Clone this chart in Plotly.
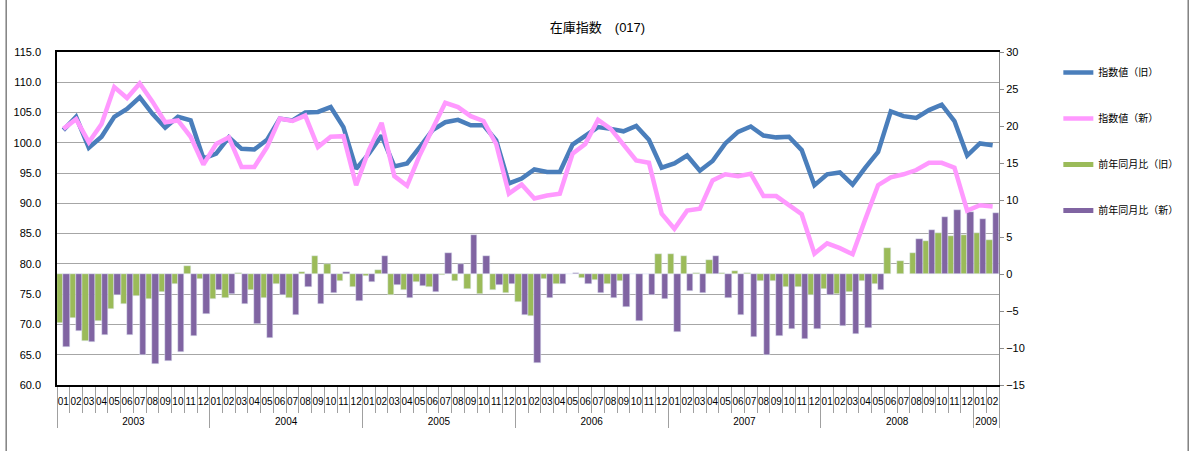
import plotly.graph_objects as go

years = ["2003"] * 12 + ["2004"] * 12 + ["2005"] * 12 + ["2006"] * 12 + ["2007"] * 12 + ["2008"] * 12 + ["2009"] * 2
months = ["%02d" % m for m in range(1, 13)] * 6 + ["01", "02"]

# 指数値 (旧)
index_old = [102.1, 104.3, 99.2, 101.0, 104.3, 105.6, 107.5, 104.8, 102.5, 104.3, 103.7, 97.4,
             98.2, 100.9, 99.0, 98.9, 100.5, 104.0, 103.7, 105.0, 105.1, 105.9, 102.6, 95.7,
             98.2, 101.2, 96.1, 96.6, 99.3, 102.1, 103.4, 103.8, 102.9, 102.9, 100.4, 93.3,
             94.1, 95.6, 95.2, 95.2, 99.7, 101.2, 102.6, 102.3, 101.9, 102.8, 100.5, 95.9,
             96.6, 97.9, 95.4, 97.0, 99.9, 101.8, 102.7, 101.2, 100.9, 101.0, 98.8, 93.0,
             94.8, 95.1, 93.1, 95.9, 98.5, 105.2, 104.4, 104.1, 105.4, 106.3, 103.6, 97.9,
             99.9, 99.6]

# 指数値 (新)
index_new = [102.3, 103.9, 100.1, 103.1, 109.2, 107.4, 109.8, 106.8, 103.4, 103.7, 101.0, 96.4,
             99.8, 100.9, 96.0, 96.0, 99.3, 104.0, 103.6, 104.5, 99.3, 101.0, 101.1, 93.0,
             98.8, 103.3, 94.5, 92.9, 98.0, 102.1, 106.6, 105.9, 104.4, 103.6, 99.8, 91.6,
             93.1, 90.8, 91.3, 91.6, 98.2, 99.8, 103.8, 102.3, 99.7, 97.1, 96.7, 88.3,
             85.8, 88.8, 89.1, 93.8, 94.8, 94.5, 94.9, 91.2, 91.2, 89.7, 88.2, 81.7,
             83.4, 82.6, 81.6, 87.4, 93.0, 94.3, 94.8, 95.5, 96.7, 96.7, 95.9, 88.8,
             89.7, 89.5]

# 前年同月比 (旧)
yoy_old = [-6.6, -5.9, -9.0, -6.4, -4.7, -4.1, -3.0, -3.4, -2.4, -1.3, 1.1, -0.7,
           -3.4, -3.2, 0.1, -2.2, -3.2, -1.4, -3.2, 0.3, 2.5, 1.4, -0.9, -1.7,
           -0.3, 0.5, -2.9, -2.2, -1.1, -1.8, -0.1, -0.9, -2.0, -2.7, -2.1, -2.5,
           -3.8, -5.7, -0.7, -1.4, 0.0, -0.6, -0.8, -1.4, -0.9, 0.0, 0.0, 2.7,
           2.7, 2.5, 0.2, 1.9, 0.2, 0.4, 0.1, -0.9, -0.9, -1.8, -1.8, -2.9,
           -2.0, -2.7, -2.4, -0.9, -1.4, 3.5, 1.8, 2.8, 4.5, 5.5, 5.2, 5.3,
           5.5, 4.6]

# 前年同月比 (新)
yoy_new = [-9.9, -7.7, -9.2, -8.2, -2.8, -8.2, -11.0, -12.2, -11.8, -10.6, -8.4, -5.4,
           -2.1, -2.7, -4.1, -6.8, -8.6, -2.9, -5.6, -1.8, -4.0, -2.5, 0.3, -3.6,
           -1.1, 2.5, -1.5, -3.2, -1.6, -2.4, 2.9, 1.4, 5.3, 2.5, -1.5, -1.4,
           -5.6, -12.0, -3.2, -1.3, 0.2, -1.4, -2.5, -3.3, -4.4, -6.3, -2.9, -3.4,
           -7.8, -2.3, -2.5, 2.5, -3.3, -5.5, -8.5, -10.9, -8.4, -7.4, -8.8, -7.4,
           -2.9, -7.0, -8.1, -7.3, -2.2, None, None, 4.7, 5.9, 7.7, 8.7, 8.4,
           7.5, 8.3]

BLUE = "#4A7EBB"
PINK = "#FF99FF"
GREEN = "#9BBB59"
PURPLE = "#8064A2"
FONT = "Liberation Sans, Noto Sans CJK JP, Arial"

# 年ラベルは月ラベルの一段下に表示
x = [["<br>" + y for y in years], months]
fig = go.Figure()

# 棒グラフ (右軸 = y)
fig.add_trace(go.Bar(x=x, y=yoy_old, marker_color=GREEN, name="前年同月比（旧）",
                     legendgroup="c", showlegend=False, yaxis="y"))
fig.add_trace(go.Bar(x=x, y=yoy_new, marker_color=PURPLE, name="前年同月比（新）",
                     legendgroup="d", showlegend=False, yaxis="y"))

# 折れ線 (左軸 = y2, 棒の上に描画)
fig.add_trace(go.Scatter(x=x, y=index_old, mode="lines", name="指数値（旧）",
                         line=dict(color=BLUE, width=4.5), legendgroup="a", yaxis="y2"))
fig.add_trace(go.Scatter(x=x, y=index_new, mode="lines", name="指数値（新）",
                         line=dict(color=PINK, width=4.5), legendgroup="b", yaxis="y2"))

# 凡例用 (棒を線で表示)
fig.add_trace(go.Scatter(x=x, y=[None] * len(months), mode="lines", name="前年同月比（旧）",
                         line=dict(color=GREEN, width=5), legendgroup="c", yaxis="y2"))
fig.add_trace(go.Scatter(x=x, y=[None] * len(months), mode="lines", name="前年同月比（新）",
                         line=dict(color=PURPLE, width=5), legendgroup="d", yaxis="y2"))

fig.update_layout(
    width=1195, height=451,
    margin=dict(l=57, r=192, t=52, b=66),
    paper_bgcolor="white", plot_bgcolor="white",
    font=dict(family=FONT, size=11, color="black"),
    title=dict(text="在庫指数　(017)", x=0.5, xanchor="center", y=0.94, yanchor="middle",
               font=dict(size=13, family=FONT)),
    barmode="group", bargap=0.0, bargroupgap=0.0,
    showlegend=True,
    legend=dict(x=1.063, xanchor="left", y=0.982, yanchor="top", tracegroupgap=27,
                font=dict(size=10, family=FONT), bgcolor="rgba(0,0,0,0)"),
    xaxis=dict(type="multicategory", showline=True, linecolor="black", linewidth=1.5,
               mirror=True, ticks="outside", tickson="boundaries", ticklen=26,
               tickcolor="#A0A0A0", showdividers=True, dividercolor="#A0A0A0",
               dividerwidth=1, tickfont=dict(size=10), tickangle=0, showgrid=False,
               ticklabelstandoff=6),
    yaxis=dict(range=[-15, 30], dtick=5, side="right", showgrid=False, zeroline=False,
               showline=True, linecolor="#8C8C8C", ticks="outside", ticklen=4,
               tickcolor="#8C8C8C", tickfont=dict(size=11)),
    yaxis2=dict(range=[60, 115], dtick=5, tickformat=".1f", side="left", overlaying="y",
                showgrid=True, gridcolor="#A6A6A6", gridwidth=1, zeroline=False,
                showline=True, linecolor="black", linewidth=1.5, ticks="",
                ticklabelstandoff=12, tickfont=dict(size=11)),
)

# 外枠
fig.add_shape(type="rect", xref="paper", yref="paper", x0=-0.054, x1=1.2008, y0=-0.22, y1=1.17,
              line=dict(color="#404040", width=1), fillcolor="rgba(0,0,0,0)", layer="below")

fig.write_html("out.html", post_script="document.body.style.margin='0';",
               config={"displayModeBar": False})
